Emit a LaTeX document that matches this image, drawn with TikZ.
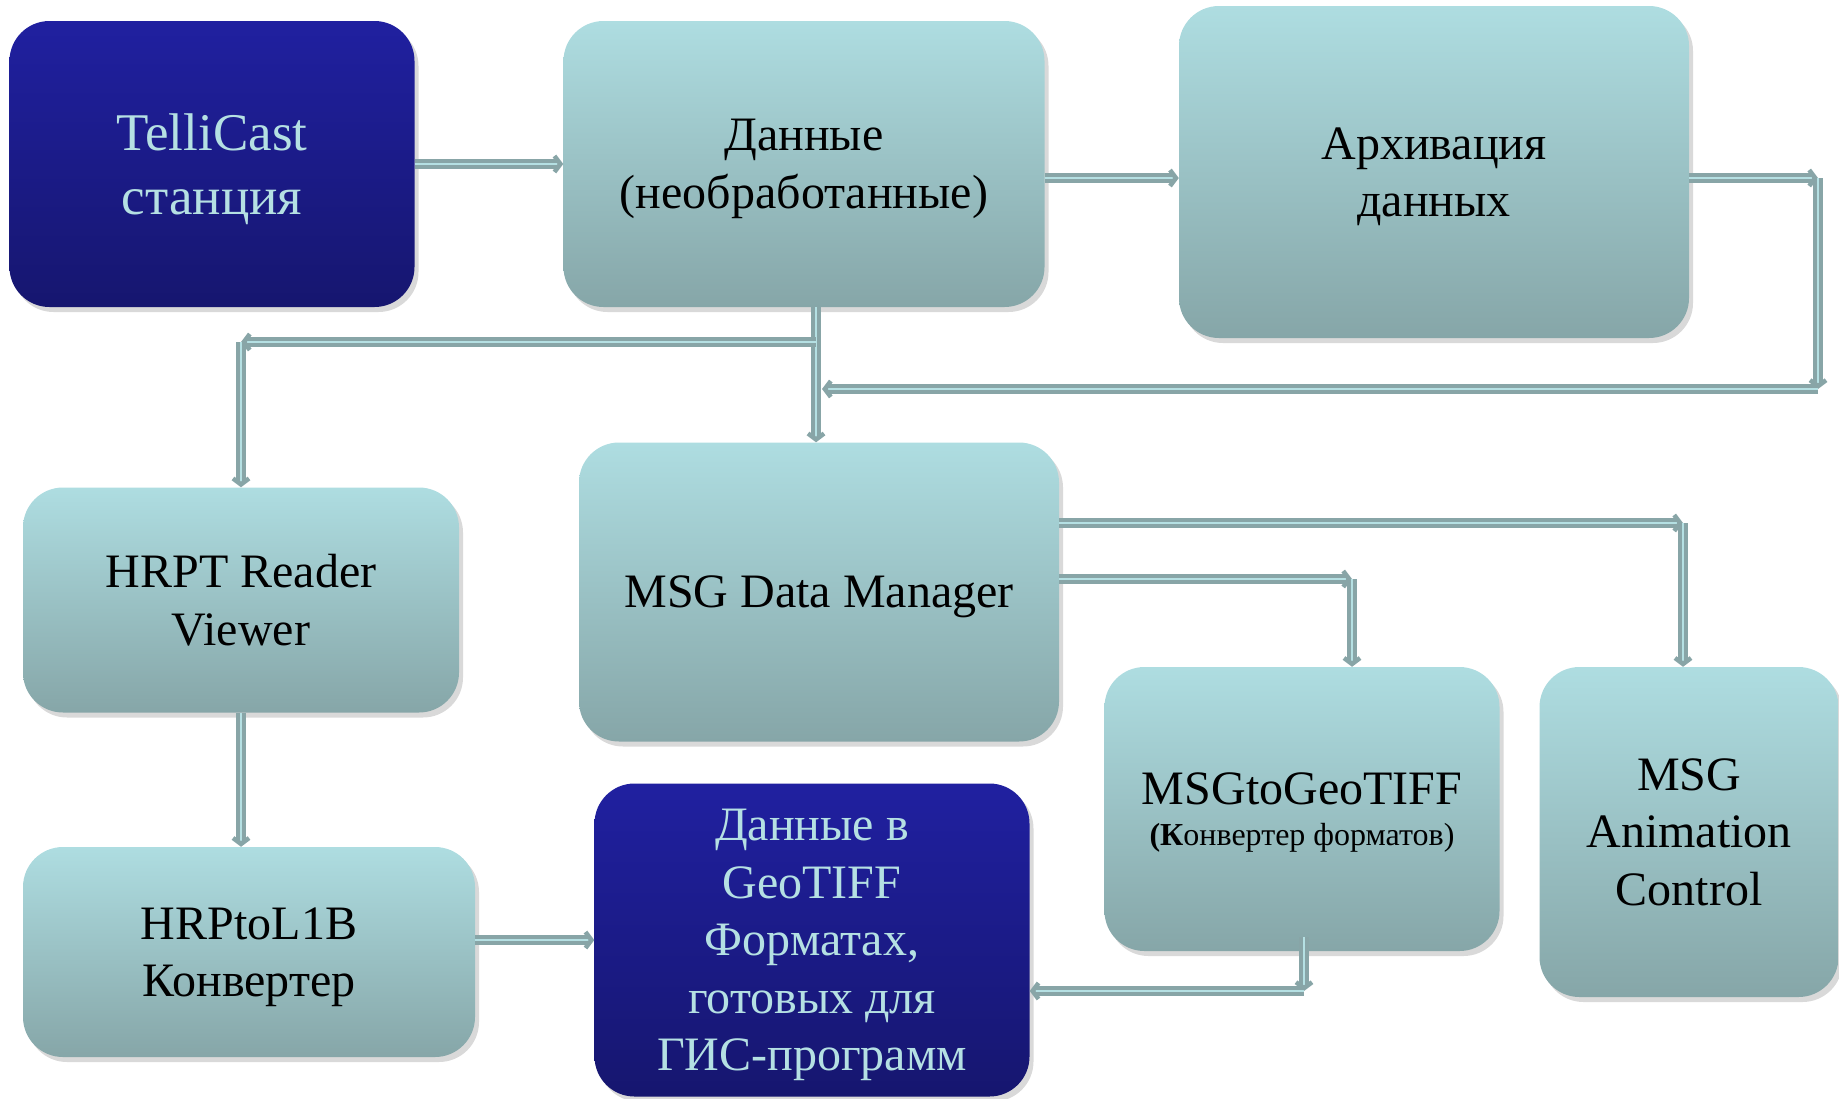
\documentclass[tikz,border=0pt]{standalone}
\usepackage{fontspec}
\setmainfont{Liberation Serif}
\usetikzlibrary{positioning}
\usetikzlibrary{arrows.meta}
\usetikzlibrary{shadows}

\definecolor{boxtop}{HTML}{AEDDE1}
\definecolor{boxbot}{HTML}{86A6A8}
\definecolor{darktop}{HTML}{2020A0}
\definecolor{darkbot}{HTML}{16166F}
\definecolor{palepen}{HTML}{B5E0E3}
\definecolor{linkgray}{HTML}{88A5A7}

\begin{document}
\begin{tikzpicture}[x=1pt, y=-1pt,
                block/.style = {rounded corners=40pt, top color=boxtop, bottom color=boxbot,
                                align=center, inner sep=0pt, text depth=-7pt,
                                font=\fontsize{48}{57.5}\selectfont,
                                drop shadow={shadow xshift=4pt, shadow yshift=-5pt, opacity=0.3}},
                dark block/.style = {block, top color=darktop, bottom color=darkbot, text=palepen},
                link/.style = {draw=linkgray, double=palepen, double distance=1.5pt, line width=4.5pt,
                               -{Straight Barb[length=6pt, width=16pt]}}
                ]
                \useasboundingbox (0,0) rectangle (1839,1098);

                % --- Blocchi ---
                \node[dark block, minimum width=405pt, minimum height=286pt,
                      font=\fontsize{53}{64}\selectfont] (tell) at (212,164) {TelliCast\\станция};
                \node[block, minimum width=481pt, minimum height=286pt] (raw) at (804,164) {Данные\\(необработанные)};
                \node[block, minimum width=510pt, minimum height=332pt] (arch) at (1434,172) {Архивация\\данных};
                \node[block, minimum width=436pt, minimum height=225pt] (hrpt) at (241,600) {HRPT Reader\\Viewer};
                \node[block, minimum width=480pt, minimum height=299pt] (mgr) at (819,592) {MSG Data Manager};
                \node[block, minimum width=395pt, minimum height=284pt, text depth=-18pt] (tiff) at (1302,809)
                     {MSGtoGeoTIFF\\[-17pt]{\fontsize{32}{38}\selectfont\textbf{(К}онвертер форматов)}};
                \node[block, minimum width=299pt, minimum height=330pt] (anim) at (1689,832) {MSG\\Animation\\Control};
                \node[block, minimum width=452pt, minimum height=210pt] (l1b) at (249,952) {HRPtoL1B\\Конвертер};
                \node[dark block, minimum width=435pt, minimum height=313pt] (gis) at (812,940)
                     {Данные в\\GeoTIFF\\Форматах,\\готовых для\\ГИС-программ};

                % --- Punti di svolta ---
                \coordinate (j1) at (816,342);
                \coordinate (j2) at (241,342);
                \coordinate (c1) at (1818,178);
                \coordinate (c2) at (1818,389);
                \coordinate (c3) at (822,389);
                \coordinate (t1) at (1352,579);
                \coordinate (t2) at (1683,523);
                \coordinate (g1) at (1304,991);

                % --- Frecce ---
                \draw[link] (tell.east) -- (raw.west);
                \draw[link] ([yshift=-14pt]raw.east) -- ([yshift=-6pt]arch.west);
                \draw[link] ([yshift=-6pt]arch.east) -- (c1);
                \draw[link] (c1) -- (c2);
                \draw[link] (c2) -- (c3);
                \draw[link] ([xshift=12pt]raw.south) -- ([xshift=-3pt]mgr.north);
                \draw[link] (j1) -- (j2);
                \draw[link] (j2) -- (hrpt.north);
                \draw[link] (hrpt.south) -- (hrpt.south |- l1b.north);
                \draw[link] (l1b.east |- gis.west) -- (gis.west);
                \draw[link] ([yshift=13pt]mgr.east) -- (t1);
                \draw[link] (t1) -- (t1 |- tiff.north);
                \draw[link] ([yshift=69pt]mgr.east) -- (t2);
                \draw[link] (t2) -- (t2 |- anim.north);
                \draw[link] ([xshift=2pt, yshift=14pt]tiff.south) -- (g1);
                \draw[link] (g1) -- (g1 -| gis.east);

            \end{tikzpicture}
\end{document}
